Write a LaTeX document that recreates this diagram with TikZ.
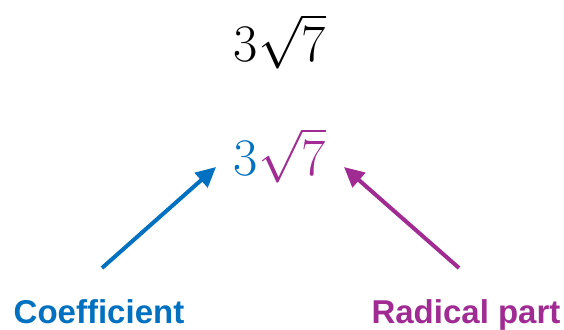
\documentclass[tikz,border=0pt]{standalone}
\usepackage{graphicx}
\usepackage{fontspec}
\newfontfamily\labelfont{Liberation Sans}
\usetikzlibrary{arrows.meta}
\definecolor{coefblue}{HTML}{0070C0}
\definecolor{radpurple}{HTML}{A02B93}
\newcommand{\bigmath}[1]{\scalebox{2.12}{\Huge$#1$}}
\tikzset{
  mathtext/.style={inner sep=0pt, anchor=base},
  labeltext/.style={inner sep=0pt, anchor=base, font=\labelfont\bfseries\fontsize{33}{38}\selectfont},
  pointer/.style={line width=4pt, -{Triangle[length=20pt,width=19pt]}},
}
\begin{document}
\begin{tikzpicture}[x=1pt,y=-1pt]
\useasboundingbox (0,0) rectangle (564,329);
\node[mathtext] (top) at (280,61) {\bigmath{3\sqrt{7}}};
\node[mathtext] (bot) at (280,175) {\bigmath{\textcolor{coefblue}{3}\textcolor{radpurple}{\sqrt{7}}}};
\node[labeltext, text=coefblue] (coef) at (99,323) {Coefficient};
\node[labeltext, text=radpurple] (rad) at (466,323) {Radical part};
\coordinate (b0) at (102,268);
\coordinate (b1) at (216,167);
\coordinate (p0) at (459,268);
\coordinate (p1) at (344,167);
\draw[pointer, coefblue] (b0) -- (b1);
\draw[pointer, radpurple] (p0) -- (p1);
\end{tikzpicture}
\end{document}
